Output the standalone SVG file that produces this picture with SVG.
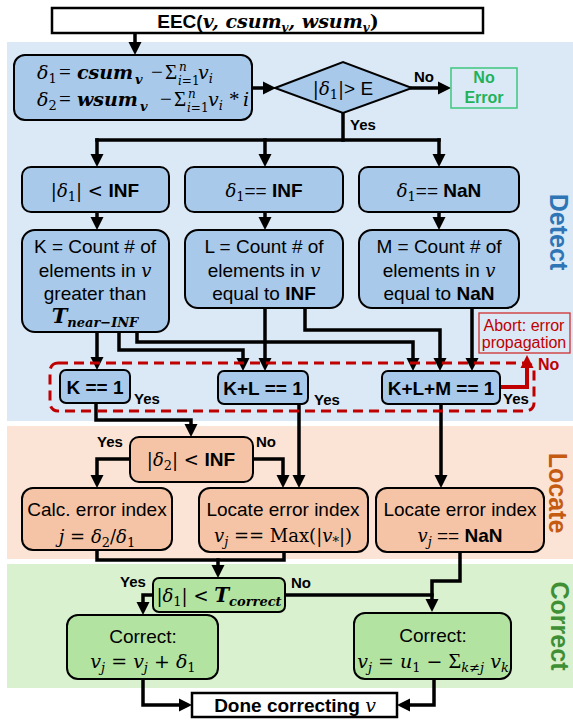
<svg xmlns="http://www.w3.org/2000/svg" width="573" height="720" viewBox="0 0 573 720">
<style>
  text { font-family: "Liberation Sans", Arial, sans-serif; font-size: 19px; fill: #000; }
  .c { text-anchor: middle; }
  .m { font-family: "DejaVu Serif", "Liberation Serif", serif; font-style: italic; font-size: 18px; }
  .op { font-family: "Liberation Serif", serif; font-style: normal; font-size: 21px; }
  .u { font-style: normal; }
  .bf { font-weight: bold; }
  .sub { font-size: 12px; }
  .box { stroke: #000; stroke-width: 2; }
  .blue { fill: #a8c9ea; }
  .peach { fill: #f5c4a6; }
  .green { fill: #b3e3a1; }
  .plain { fill: #fff; stroke: #000; stroke-width: 2.5; }
  .wire { fill: none; stroke: #000; stroke-width: 3.5; stroke-linecap: square; stroke-linejoin: miter; }
  .lbl { font-weight: bold; font-size: 15px; }
  .side { font-weight: bold; font-size: 25px; text-anchor: middle; }
  .red { fill: #c00000; }
</style>
<defs>
  <marker id="ah" markerUnits="userSpaceOnUse" markerWidth="14" markerHeight="14" refX="3" refY="7" orient="auto">
    <path d="M0,0.5 L13,7 L0,13.5 Z" fill="#000"/>
  </marker>
  <marker id="ahr" markerUnits="userSpaceOnUse" markerWidth="14" markerHeight="14" refX="3" refY="7" orient="auto">
    <path d="M0,0.5 L13,7 L0,13.5 Z" fill="#c00000"/>
  </marker>
</defs>

<!-- stage bands -->
<g id="bands">
  <rect x="7" y="42" width="566" height="379" fill="#dbe8f5"/>
  <rect x="7" y="426" width="566" height="133" fill="#fbe3d6"/>
  <rect x="7" y="564" width="566" height="124" fill="#daf1d0"/>
  <text class="side" transform="translate(550,232) rotate(90)" style="fill:#2e75b6">Detect</text>
  <text class="side" transform="translate(549,493) rotate(90)" style="fill:#c55a11">Locate</text>
  <text class="side" transform="translate(551,626) rotate(90)" style="fill:#3f8f35">Correct</text>
</g>

<!-- connectors -->
<g id="connectors">
  <g class="wire" marker-end="url(#ah)">
    <path d="M135,33 V45"/>
    <path d="M252,88 H266"/>
    <path d="M412,88 H441"/>
    <path d="M97,140 V157"/>
    <path d="M265,140 V157"/>
    <path d="M439,140 V157"/>
    <path d="M97,212 V220"/>
    <path d="M265,212 V220"/>
    <path d="M439,212 V220"/>
    <path d="M97,332 V360"/>
    <path d="M119,332 V350 H243 V361"/>
    <path d="M137,332 V342 H413 V361"/>
    <path d="M265,308 V361"/>
    <path d="M305,308 V330 H440 V361"/>
    <path d="M472,308 V361"/>
    <path d="M96,403 V420 H191 V427"/>
    <path d="M299,404 V478"/>
    <path d="M441,404 V478"/>
    <path d="M130,459 H97 V478"/>
    <path d="M253,459 H283 V478"/>
    <path d="M218,560 V568"/>
    <path d="M460,552 V581 H432 V602"/>
    <path d="M153,595 H143 V605"/>
    <path d="M143,679 V705 H182"/>
    <path d="M434,679 V705 H407"/>
  </g>
  <g class="wire">
    <path d="M343,113 V140"/>
    <path d="M97,140 H439"/>
    <path d="M97,550 V560 H284 V552"/>
    <path d="M285,595 H432"/>
  </g>
  <path d="M500,387 H527 V365" fill="none" stroke="#c00000" stroke-width="4" marker-end="url(#ahr)"/>
  <!-- error-free group outline -->
  <rect x="50" y="363" width="484" height="48" rx="8" fill="none" stroke="#c00000" stroke-width="3" stroke-dasharray="10 6"/>
  <!-- branch labels -->
  <text class="lbl" x="414" y="82">No</text>
  <text class="lbl" x="350" y="130">Yes</text>
  <text class="lbl" x="134" y="404">Yes</text>
  <text class="lbl" x="314" y="405">Yes</text>
  <text class="lbl" x="503" y="404">Yes</text>
  <text class="lbl red" x="538" y="370" style="font-size:16px">No</text>
  <text class="lbl" x="97" y="447">Yes</text>
  <text class="lbl" x="256" y="447">No</text>
  <text class="lbl" x="120" y="587">Yes</text>
  <text class="lbl" x="291" y="588">No</text>
</g>

<!-- nodes -->
<g id="eec">
  <rect class="plain" x="52" y="8" width="431" height="25"/>
  <text class="c bf" x="268" y="28">EEC(<tspan class="m bf" style="font-size:19px">v, csum</tspan><tspan class="m bf sub" dy="4">v</tspan><tspan class="m bf" style="font-size:19px" dy="-4">, wsum</tspan><tspan class="m bf sub" dy="4">v</tspan><tspan class="m bf u" style="font-size:19px" dy="-4">)</tspan></text>
</g>

<g id="delta">
  <rect class="box blue" x="14" y="55" width="238" height="65" rx="11"/>
  <text class="m" style="font-size:19px">
    <tspan x="37" y="79">δ</tspan><tspan class="u" style="font-size:13px" y="83">1</tspan>
    <tspan class="op" x="59" y="79">=</tspan>
    <tspan class="bf" x="77">csum</tspan>
    <tspan class="bf" style="font-size:13px" x="135" y="84">v</tspan>
    <tspan class="op" x="151" y="79">−</tspan>
    <tspan class="op" x="165">Σ</tspan>
    <tspan class="sub" x="179" y="71">n</tspan>
    <tspan class="sub" x="178" y="85">i</tspan><tspan class="u sub">=1</tspan>
    <tspan x="198" y="79">v</tspan><tspan style="font-size:13px" y="83">i</tspan>
  </text>
  <text class="m" style="font-size:19px">
    <tspan x="37" y="106">δ</tspan><tspan class="u" style="font-size:13px" y="110">2</tspan>
    <tspan class="op" x="59" y="106">=</tspan>
    <tspan class="bf" x="77">wsum</tspan>
    <tspan class="bf" style="font-size:13px" x="140" y="111">v</tspan>
    <tspan class="op" x="160" y="106">−</tspan>
    <tspan class="op" x="174">Σ</tspan>
    <tspan class="sub" x="188" y="98">n</tspan>
    <tspan class="sub" x="187" y="112">i</tspan><tspan class="u sub">=1</tspan>
    <tspan x="208" y="106">v</tspan><tspan style="font-size:13px" y="110">i</tspan>
    <tspan class="op" x="229" y="106">*</tspan>
    <tspan x="243" y="106">i</tspan>
  </text>
</g>

<g id="check-e">
  <polygon class="box blue" points="275,88 343,62 412,88 343,113"/>
  <text class="c" x="343" y="95"><tspan class="m u">|</tspan><tspan class="m">δ</tspan><tspan class="m u" style="font-size:13px" dy="4">1</tspan><tspan class="m u" dy="-4">|</tspan>&gt; E</text>
</g>

<g id="no-error">
  <rect x="451" y="68" width="66" height="40" fill="none" stroke="#48c985" stroke-width="1.6"/>
  <text class="c bf" x="484" y="83" style="font-size:16px;fill:#1fb25a">No</text>
  <text class="c bf" x="484" y="103" style="font-size:16px;fill:#1fb25a">Error</text>
</g>

<g id="c-finite">
  <rect class="box blue" x="22" y="167" width="147" height="45" rx="9"/>
  <text class="c" x="95" y="197"><tspan class="m u">|</tspan><tspan class="m">δ</tspan><tspan class="m u" style="font-size:13px" dy="4">1</tspan><tspan class="m u" dy="-4">| &lt; </tspan><tspan class="bf">INF</tspan></text>
</g>
<g id="c-inf">
  <rect class="box blue" x="185" y="167" width="158" height="45" rx="9"/>
  <text class="c" x="264" y="197"><tspan class="m">δ</tspan><tspan class="m u" style="font-size:13px" dy="4">1</tspan><tspan dy="-4">== </tspan><tspan class="bf">INF</tspan></text>
</g>
<g id="c-nan">
  <rect class="box blue" x="359" y="167" width="160" height="45" rx="9"/>
  <text class="c" x="439" y="197"><tspan class="m">δ</tspan><tspan class="m u" style="font-size:13px" dy="4">1</tspan><tspan dy="-4">== </tspan><tspan class="bf">NaN</tspan></text>
</g>

<g id="count-k">
  <rect class="box blue" x="22" y="230" width="147" height="102" rx="13"/>
  <text class="c" x="95" y="253">K = Count # of</text>
  <text class="c" x="95" y="277">elements in <tspan class="m">v</tspan></text>
  <text class="c" x="95" y="300">greater than</text>
  <text class="c m bf" x="95" y="323"><tspan style="font-size:21px">T</tspan><tspan style="font-size:13px" dy="4">near−INF</tspan></text>
</g>
<g id="count-l">
  <rect class="box blue" x="185" y="230" width="158" height="78" rx="13"/>
  <text class="c" x="264" y="253">L = Count # of</text>
  <text class="c" x="264" y="277">elements in <tspan class="m">v</tspan></text>
  <text class="c" x="264" y="300">equal to <tspan class="bf">INF</tspan></text>
</g>
<g id="count-m">
  <rect class="box blue" x="359" y="230" width="160" height="78" rx="13"/>
  <text class="c" x="439" y="253">M = Count # of</text>
  <text class="c" x="439" y="277">elements in <tspan class="m">v</tspan></text>
  <text class="c" x="439" y="300">equal to <tspan class="bf">NaN</tspan></text>
</g>

<g id="k1">
  <rect class="box blue" x="60" y="370" width="70" height="33" rx="6"/>
  <text class="c bf" x="95" y="394">K == 1</text>
</g>
<g id="kl1">
  <rect class="box blue" x="218" y="371" width="90" height="33" rx="6"/>
  <text class="c bf" x="263" y="395">K+L == 1</text>
</g>
<g id="klm1">
  <rect class="box blue" x="382" y="371" width="118" height="33" rx="6"/>
  <text class="c bf" x="441" y="395">K+L+M == 1</text>
</g>

<g id="abort">
  <rect x="479" y="313" width="91" height="40" fill="none" stroke="#d03030" stroke-width="1.3"/>
  <text class="c red" x="524" y="331" style="font-size:16px">Abort: error</text>
  <text class="c red" x="524" y="348" style="font-size:16px">propagation</text>
</g>

<g id="check-d2">
  <rect class="box peach" x="130" y="437" width="123" height="45" rx="9"/>
  <text class="c" x="191" y="466"><tspan class="m u">|</tspan><tspan class="m">δ</tspan><tspan class="m u" style="font-size:13px" dy="4">2</tspan><tspan class="m u" dy="-4">| &lt; </tspan><tspan class="bf">INF</tspan></text>
</g>
<g id="calc-idx">
  <rect class="box peach" x="22" y="488" width="150" height="62" rx="11"/>
  <text class="c" x="97" y="516">Calc. error index</text>
  <text class="c m" x="97" y="543">j <tspan class="u"> = </tspan>δ<tspan class="u" style="font-size:13px" dy="4">2</tspan><tspan class="u" dy="-4">/</tspan>δ<tspan class="u" style="font-size:13px" dy="4">1</tspan></text>
</g>
<g id="loc-max">
  <rect class="box peach" x="199" y="488" width="169" height="64" rx="11"/>
  <text class="c" x="283" y="516">Locate error index</text>
  <text class="c m" x="283" y="542">v<tspan style="font-size:13px" dy="4">j</tspan><tspan class="u" dy="-4"> == Max(|</tspan>v<tspan class="u" style="font-size:13px" dy="4">*</tspan><tspan class="u" dy="-4">|)</tspan></text>
</g>
<g id="loc-nan">
  <rect class="box peach" x="376" y="488" width="168" height="64" rx="11"/>
  <text class="c" x="460" y="516">Locate error index</text>
  <text class="c" x="460" y="542"><tspan class="m">v</tspan><tspan class="m" style="font-size:13px" dy="4">j</tspan><tspan dy="-4"> == </tspan><tspan class="bf">NaN</tspan></text>
</g>

<g id="check-t">
  <rect class="box green" x="153" y="578" width="132" height="34" rx="6"/>
  <text class="c" x="219" y="602"><tspan class="m u">|</tspan><tspan class="m">δ</tspan><tspan class="m u" style="font-size:13px" dy="4">1</tspan><tspan class="m u" dy="-4">| &lt;  </tspan><tspan class="m bf" style="font-size:20px">T</tspan><tspan class="m bf" style="font-size:13px" dy="4">correct</tspan></text>
</g>
<g id="corr-a">
  <rect class="box green" x="67" y="615" width="151" height="64" rx="11"/>
  <text class="c" x="143" y="643">Correct:</text>
  <text class="c m" x="143" y="668" style="font-size:19px">v<tspan style="font-size:13px" dy="4">j</tspan><tspan class="u" dy="-4"> = </tspan>v<tspan style="font-size:13px" dy="4">j</tspan><tspan class="u" dy="-4"> + </tspan>δ<tspan class="u" style="font-size:13px" dy="4">1</tspan></text>
</g>
<g id="corr-b">
  <rect class="box green" x="354" y="613" width="157" height="66" rx="11"/>
  <text class="c" x="433" y="642">Correct:</text>
  <text class="c m" x="433" y="668" style="font-size:19px">v<tspan style="font-size:13px" dy="4">j</tspan><tspan class="u" dy="-4"> = </tspan>u<tspan class="u" style="font-size:13px" dy="4">1</tspan><tspan class="u" dy="-4"> − </tspan><tspan class="op" style="font-size:22px">Σ</tspan><tspan style="font-size:13px" dy="4">k≠j</tspan><tspan dy="-4"> v</tspan><tspan style="font-size:13px" dy="4">k</tspan></text>
</g>

<g id="done">
  <rect class="plain" x="192" y="693" width="205" height="24"/>
  <text class="c bf" x="295" y="712">Done correcting <tspan class="m" style="font-weight:normal;font-size:19px">v</tspan></text>
</g>
</svg>
